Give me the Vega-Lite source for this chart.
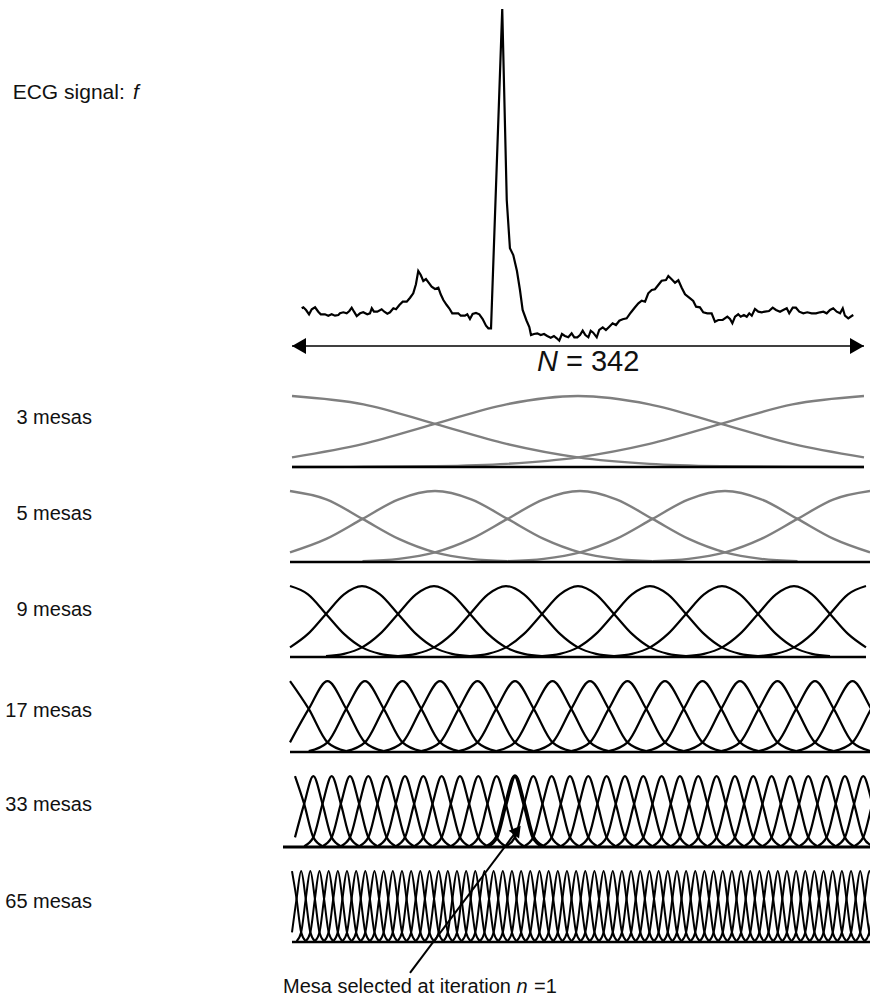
{
"$schema": "https://vega.github.io/schema/vega-lite/v6.json",
"padding": 0,
"spacing": 0,
"bounds": "flush",
"background": "white",
"config": {"view": {"stroke": null}, "font": "Liberation Sans", "text": {"font": "Liberation Sans", "color": "#111"}},
"datasets": {
"ecg": [
{"s":5.8,"v":0.267},{"s":6.8,"v":0.277},{"s":8.4,"v":0.25},{"s":10.2,"v":0.207},{"s":11.8,"v":0.257},{"s":13.8,"v":0.277},{"s":15.7,"v":0.233},{"s":17.2,"v":0.207},{"s":19.7,"v":0.207},{"s":21.7,"v":0.193},{"s":23.7,"v":0.207},{"s":25.7,"v":0.193},{"s":27.7,"v":0.2},{"s":28.7,"v":0.217},{"s":30.7,"v":0.227},{"s":32.7,"v":0.217},{"s":34.3,"v":0.24},{"s":35.7,"v":0.273},{"s":37.1,"v":0.233},{"s":38.7,"v":0.19},{"s":40.7,"v":0.217},{"s":42.6,"v":0.227},{"s":45.0,"v":0.207},{"s":46.6,"v":0.217},{"s":47.7,"v":0.267},{"s":49.0,"v":0.233},{"s":51.0,"v":0.233},{"s":53.6,"v":0.257},{"s":55.2,"v":0.233},{"s":57.0,"v":0.213},{"s":58.6,"v":0.227},{"s":60.6,"v":0.267},{"s":62.2,"v":0.257},{"s":64.2,"v":0.3},{"s":66.2,"v":0.333},{"s":68.6,"v":0.333},{"s":70.6,"v":0.373},{"s":72.5,"v":0.417},{"s":74.1,"v":0.507},{"s":75.5,"v":0.64},{"s":77.0,"v":0.6},{"s":78.5,"v":0.54},{"s":80.1,"v":0.56},{"s":81.7,"v":0.523},{"s":83.5,"v":0.483},{"s":85.5,"v":0.46},{"s":87.5,"v":0.473},{"s":88.9,"v":0.407},{"s":90.5,"v":0.35},{"s":92.5,"v":0.3},{"s":94.0,"v":0.267},{"s":95.8,"v":0.217},{"s":97.5,"v":0.217},{"s":99.4,"v":0.217},{"s":100.9,"v":0.193},{"s":103.4,"v":0.193},{"s":104.8,"v":0.207},{"s":106.4,"v":0.16},{"s":108.0,"v":0.21},{"s":110.0,"v":0.22},{"s":112.0,"v":0.207},{"s":114.0,"v":0.16},{"s":116.0,"v":0.093},{"s":117.4,"v":0.067},{"s":119.0,"v":0.067},{"s":125.7,"v":3.26},{"s":128.4,"v":1.35},{"s":130.3,"v":0.867},{"s":132.3,"v":0.8},{"s":134.5,"v":0.64},{"s":136.3,"v":0.45},{"s":137.9,"v":0.25},{"s":140.2,"v":0.145},{"s":141.9,"v":0.08},{"s":142.9,"v":0.0},{"s":144.7,"v":0.01},{"s":146.7,"v":0.017},{"s":148.7,"v":0.0},{"s":150.7,"v":0.01},{"s":152.6,"v":-0.01},{"s":154.7,"v":-0.027},{"s":156.6,"v":-0.01},{"s":158.3,"v":-0.033},{"s":159.8,"v":-0.057},{"s":161.4,"v":0.01},{"s":163.2,"v":-0.01},{"s":165.2,"v":-0.023},{"s":167.2,"v":0.017},{"s":168.8,"v":-0.023},{"s":170.6,"v":-0.023},{"s":172.2,"v":0.0},{"s":173.8,"v":0.043},{"s":175.4,"v":0.0},{"s":177.2,"v":-0.023},{"s":178.6,"v":0.043},{"s":180.1,"v":0.023},{"s":182.2,"v":-0.023},{"s":183.7,"v":0.05},{"s":185.8,"v":0.077},{"s":187.7,"v":0.05},{"s":189.7,"v":0.083},{"s":191.7,"v":0.117},{"s":193.7,"v":0.1},{"s":195.7,"v":0.143},{"s":197.7,"v":0.157},{"s":200.1,"v":0.167},{"s":202.5,"v":0.223},{"s":205.1,"v":0.277},{"s":207.1,"v":0.317},{"s":209.1,"v":0.343},{"s":211.1,"v":0.333},{"s":213.0,"v":0.417},{"s":215.1,"v":0.45},{"s":217.0,"v":0.457},{"s":219.0,"v":0.5},{"s":221.0,"v":0.543},{"s":223.6,"v":0.55},{"s":225.0,"v":0.59},{"s":227.0,"v":0.557},{"s":229.0,"v":0.523},{"s":231.0,"v":0.547},{"s":233.0,"v":0.473},{"s":235.0,"v":0.407},{"s":237.5,"v":0.373},{"s":239.9,"v":0.34},{"s":241.6,"v":0.283},{"s":243.9,"v":0.277},{"s":245.9,"v":0.227},{"s":248.3,"v":0.217},{"s":250.9,"v":0.217},{"s":252.9,"v":0.133},{"s":254.9,"v":0.15},{"s":257.5,"v":0.15},{"s":260.3,"v":0.183},{"s":261.9,"v":0.16},{"s":263.3,"v":0.117},{"s":264.9,"v":0.183},{"s":266.8,"v":0.207},{"s":268.3,"v":0.183},{"s":270.2,"v":0.2},{"s":271.9,"v":0.183},{"s":273.4,"v":0.217},{"s":274.9,"v":0.193},{"s":276.8,"v":0.26},{"s":278.8,"v":0.233},{"s":280.8,"v":0.227},{"s":282.8,"v":0.233},{"s":285.2,"v":0.24},{"s":287.4,"v":0.273},{"s":289.4,"v":0.25},{"s":291.8,"v":0.233},{"s":293.7,"v":0.25},{"s":295.8,"v":0.267},{"s":297.3,"v":0.217},{"s":299.4,"v":0.273},{"s":301.3,"v":0.273},{"s":303.3,"v":0.233},{"s":305.7,"v":0.217},{"s":308.1,"v":0.227},{"s":310.7,"v":0.217},{"s":313.3,"v":0.217},{"s":315.7,"v":0.227},{"s":317.7,"v":0.233},{"s":319.7,"v":0.217},{"s":321.7,"v":0.25},{"s":323.6,"v":0.267},{"s":325.7,"v":0.233},{"s":327.7,"v":0.217},{"s":329.3,"v":0.267},{"s":330.6,"v":0.193},{"s":332.6,"v":0.167},{"s":334.6,"v":0.19},{"s":335.6,"v":0.2}
],
"m3": [
{"k":0,"x":0,"y":1},{"k":0,"x":42.75,"y":0.883},{"k":0,"x":85.5,"y":0.607},{"k":0,"x":128.25,"y":0.325},{"k":0,"x":171,"y":0.135},{"k":0,"x":213.75,"y":0.044},{"k":0,"x":256.5,"y":0.011},{"k":0,"x":299.25,"y":0.002},{"k":0,"x":342,"y":0},
{"k":1,"x":0,"y":0.135},{"k":1,"x":42.75,"y":0.325},{"k":1,"x":85.5,"y":0.607},{"k":1,"x":128.25,"y":0.883},{"k":1,"x":171,"y":1},{"k":1,"x":213.75,"y":0.883},{"k":1,"x":256.5,"y":0.607},{"k":1,"x":299.25,"y":0.325},{"k":1,"x":342,"y":0.135},
{"k":2,"x":0,"y":0},{"k":2,"x":42.75,"y":0.002},{"k":2,"x":85.5,"y":0.011},{"k":2,"x":128.25,"y":0.044},{"k":2,"x":171,"y":0.135},{"k":2,"x":213.75,"y":0.325},{"k":2,"x":256.5,"y":0.607},{"k":2,"x":299.25,"y":0.883},{"k":2,"x":342,"y":1}
],
"m5": [
{"k":0,"x":0,"y":1},{"k":0,"x":21.38,"y":0.883},{"k":0,"x":42.75,"y":0.607},{"k":0,"x":64.13,"y":0.325},{"k":0,"x":85.5,"y":0.135},{"k":0,"x":106.88,"y":0.044},{"k":0,"x":128.25,"y":0.011},
{"k":1,"x":0,"y":0.135},{"k":1,"x":21.38,"y":0.325},{"k":1,"x":42.75,"y":0.607},{"k":1,"x":64.13,"y":0.883},{"k":1,"x":85.5,"y":1},{"k":1,"x":106.88,"y":0.883},{"k":1,"x":128.25,"y":0.607},{"k":1,"x":149.63,"y":0.325},{"k":1,"x":171,"y":0.135},{"k":1,"x":192.38,"y":0.044},{"k":1,"x":213.75,"y":0.011},
{"k":2,"x":42.75,"y":0.011},{"k":2,"x":64.13,"y":0.044},{"k":2,"x":85.5,"y":0.135},{"k":2,"x":106.88,"y":0.325},{"k":2,"x":128.25,"y":0.607},{"k":2,"x":149.63,"y":0.883},{"k":2,"x":171,"y":1},{"k":2,"x":192.38,"y":0.883},{"k":2,"x":213.75,"y":0.607},{"k":2,"x":235.13,"y":0.325},{"k":2,"x":256.5,"y":0.135},{"k":2,"x":277.88,"y":0.044},{"k":2,"x":299.25,"y":0.011},
{"k":3,"x":128.25,"y":0.011},{"k":3,"x":149.63,"y":0.044},{"k":3,"x":171,"y":0.135},{"k":3,"x":192.38,"y":0.325},{"k":3,"x":213.75,"y":0.607},{"k":3,"x":235.13,"y":0.883},{"k":3,"x":256.5,"y":1},{"k":3,"x":277.88,"y":0.883},{"k":3,"x":299.25,"y":0.607},{"k":3,"x":320.63,"y":0.325},{"k":3,"x":342,"y":0.135},
{"k":4,"x":213.75,"y":0.011},{"k":4,"x":235.13,"y":0.044},{"k":4,"x":256.5,"y":0.135},{"k":4,"x":277.88,"y":0.325},{"k":4,"x":299.25,"y":0.607},{"k":4,"x":320.63,"y":0.883},{"k":4,"x":342,"y":1}
],
"m9": [
{"k":0,"x":0,"y":1},{"k":0,"x":10.69,"y":0.883},{"k":0,"x":21.38,"y":0.607},{"k":0,"x":32.06,"y":0.325},{"k":0,"x":42.75,"y":0.135},{"k":0,"x":53.44,"y":0.044},{"k":0,"x":64.13,"y":0.011},
{"k":1,"x":0,"y":0.135},{"k":1,"x":10.69,"y":0.325},{"k":1,"x":21.38,"y":0.607},{"k":1,"x":32.06,"y":0.883},{"k":1,"x":42.75,"y":1},{"k":1,"x":53.44,"y":0.883},{"k":1,"x":64.13,"y":0.607},{"k":1,"x":74.81,"y":0.325},{"k":1,"x":85.5,"y":0.135},{"k":1,"x":96.19,"y":0.044},{"k":1,"x":106.88,"y":0.011},
{"k":2,"x":21.38,"y":0.011},{"k":2,"x":32.06,"y":0.044},{"k":2,"x":42.75,"y":0.135},{"k":2,"x":53.44,"y":0.325},{"k":2,"x":64.13,"y":0.607},{"k":2,"x":74.81,"y":0.883},{"k":2,"x":85.5,"y":1},{"k":2,"x":96.19,"y":0.883},{"k":2,"x":106.88,"y":0.607},{"k":2,"x":117.56,"y":0.325},{"k":2,"x":128.25,"y":0.135},{"k":2,"x":138.94,"y":0.044},{"k":2,"x":149.63,"y":0.011},
{"k":3,"x":64.13,"y":0.011},{"k":3,"x":74.81,"y":0.044},{"k":3,"x":85.5,"y":0.135},{"k":3,"x":96.19,"y":0.325},{"k":3,"x":106.88,"y":0.607},{"k":3,"x":117.56,"y":0.883},{"k":3,"x":128.25,"y":1},{"k":3,"x":138.94,"y":0.883},{"k":3,"x":149.63,"y":0.607},{"k":3,"x":160.31,"y":0.325},{"k":3,"x":171,"y":0.135},{"k":3,"x":181.69,"y":0.044},{"k":3,"x":192.38,"y":0.011},
{"k":4,"x":106.88,"y":0.011},{"k":4,"x":117.56,"y":0.044},{"k":4,"x":128.25,"y":0.135},{"k":4,"x":138.94,"y":0.325},{"k":4,"x":149.63,"y":0.607},{"k":4,"x":160.31,"y":0.883},{"k":4,"x":171,"y":1},{"k":4,"x":181.69,"y":0.883},{"k":4,"x":192.38,"y":0.607},{"k":4,"x":203.06,"y":0.325},{"k":4,"x":213.75,"y":0.135},{"k":4,"x":224.44,"y":0.044},{"k":4,"x":235.13,"y":0.011},
{"k":5,"x":149.63,"y":0.011},{"k":5,"x":160.31,"y":0.044},{"k":5,"x":171,"y":0.135},{"k":5,"x":181.69,"y":0.325},{"k":5,"x":192.38,"y":0.607},{"k":5,"x":203.06,"y":0.883},{"k":5,"x":213.75,"y":1},{"k":5,"x":224.44,"y":0.883},{"k":5,"x":235.13,"y":0.607},{"k":5,"x":245.81,"y":0.325},{"k":5,"x":256.5,"y":0.135},{"k":5,"x":267.19,"y":0.044},{"k":5,"x":277.88,"y":0.011},
{"k":6,"x":192.38,"y":0.011},{"k":6,"x":203.06,"y":0.044},{"k":6,"x":213.75,"y":0.135},{"k":6,"x":224.44,"y":0.325},{"k":6,"x":235.13,"y":0.607},{"k":6,"x":245.81,"y":0.883},{"k":6,"x":256.5,"y":1},{"k":6,"x":267.19,"y":0.883},{"k":6,"x":277.88,"y":0.607},{"k":6,"x":288.56,"y":0.325},{"k":6,"x":299.25,"y":0.135},{"k":6,"x":309.94,"y":0.044},{"k":6,"x":320.63,"y":0.011},
{"k":7,"x":235.13,"y":0.011},{"k":7,"x":245.81,"y":0.044},{"k":7,"x":256.5,"y":0.135},{"k":7,"x":267.19,"y":0.325},{"k":7,"x":277.88,"y":0.607},{"k":7,"x":288.56,"y":0.883},{"k":7,"x":299.25,"y":1},{"k":7,"x":309.94,"y":0.883},{"k":7,"x":320.63,"y":0.607},{"k":7,"x":331.31,"y":0.325},{"k":7,"x":342,"y":0.135},
{"k":8,"x":277.88,"y":0.011},{"k":8,"x":288.56,"y":0.044},{"k":8,"x":299.25,"y":0.135},{"k":8,"x":309.94,"y":0.325},{"k":8,"x":320.63,"y":0.607},{"k":8,"x":331.31,"y":0.883},{"k":8,"x":342,"y":1}
],
"m17": [
{"k":0,"x":0,"y":1},{"k":0,"x":10.69,"y":0.607},{"k":0,"x":21.38,"y":0.135},{"k":0,"x":32.06,"y":0.011},
{"k":1,"x":0,"y":0.135},{"k":1,"x":10.69,"y":0.607},{"k":1,"x":21.38,"y":1},{"k":1,"x":32.06,"y":0.607},{"k":1,"x":42.75,"y":0.135},{"k":1,"x":53.44,"y":0.011},
{"k":2,"x":10.69,"y":0.011},{"k":2,"x":21.38,"y":0.135},{"k":2,"x":32.06,"y":0.607},{"k":2,"x":42.75,"y":1},{"k":2,"x":53.44,"y":0.607},{"k":2,"x":64.13,"y":0.135},{"k":2,"x":74.81,"y":0.011},
{"k":3,"x":32.06,"y":0.011},{"k":3,"x":42.75,"y":0.135},{"k":3,"x":53.44,"y":0.607},{"k":3,"x":64.13,"y":1},{"k":3,"x":74.81,"y":0.607},{"k":3,"x":85.5,"y":0.135},{"k":3,"x":96.19,"y":0.011},
{"k":4,"x":53.44,"y":0.011},{"k":4,"x":64.13,"y":0.135},{"k":4,"x":74.81,"y":0.607},{"k":4,"x":85.5,"y":1},{"k":4,"x":96.19,"y":0.607},{"k":4,"x":106.88,"y":0.135},{"k":4,"x":117.56,"y":0.011},
{"k":5,"x":74.81,"y":0.011},{"k":5,"x":85.5,"y":0.135},{"k":5,"x":96.19,"y":0.607},{"k":5,"x":106.88,"y":1},{"k":5,"x":117.56,"y":0.607},{"k":5,"x":128.25,"y":0.135},{"k":5,"x":138.94,"y":0.011},
{"k":6,"x":96.19,"y":0.011},{"k":6,"x":106.88,"y":0.135},{"k":6,"x":117.56,"y":0.607},{"k":6,"x":128.25,"y":1},{"k":6,"x":138.94,"y":0.607},{"k":6,"x":149.63,"y":0.135},{"k":6,"x":160.31,"y":0.011},
{"k":7,"x":117.56,"y":0.011},{"k":7,"x":128.25,"y":0.135},{"k":7,"x":138.94,"y":0.607},{"k":7,"x":149.63,"y":1},{"k":7,"x":160.31,"y":0.607},{"k":7,"x":171,"y":0.135},{"k":7,"x":181.69,"y":0.011},
{"k":8,"x":138.94,"y":0.011},{"k":8,"x":149.63,"y":0.135},{"k":8,"x":160.31,"y":0.607},{"k":8,"x":171,"y":1},{"k":8,"x":181.69,"y":0.607},{"k":8,"x":192.38,"y":0.135},{"k":8,"x":203.06,"y":0.011},
{"k":9,"x":160.31,"y":0.011},{"k":9,"x":171,"y":0.135},{"k":9,"x":181.69,"y":0.607},{"k":9,"x":192.38,"y":1},{"k":9,"x":203.06,"y":0.607},{"k":9,"x":213.75,"y":0.135},{"k":9,"x":224.44,"y":0.011},
{"k":10,"x":181.69,"y":0.011},{"k":10,"x":192.38,"y":0.135},{"k":10,"x":203.06,"y":0.607},{"k":10,"x":213.75,"y":1},{"k":10,"x":224.44,"y":0.607},{"k":10,"x":235.13,"y":0.135},{"k":10,"x":245.81,"y":0.011},
{"k":11,"x":203.06,"y":0.011},{"k":11,"x":213.75,"y":0.135},{"k":11,"x":224.44,"y":0.607},{"k":11,"x":235.13,"y":1},{"k":11,"x":245.81,"y":0.607},{"k":11,"x":256.5,"y":0.135},{"k":11,"x":267.19,"y":0.011},
{"k":12,"x":224.44,"y":0.011},{"k":12,"x":235.13,"y":0.135},{"k":12,"x":245.81,"y":0.607},{"k":12,"x":256.5,"y":1},{"k":12,"x":267.19,"y":0.607},{"k":12,"x":277.88,"y":0.135},{"k":12,"x":288.56,"y":0.011},
{"k":13,"x":245.81,"y":0.011},{"k":13,"x":256.5,"y":0.135},{"k":13,"x":267.19,"y":0.607},{"k":13,"x":277.88,"y":1},{"k":13,"x":288.56,"y":0.607},{"k":13,"x":299.25,"y":0.135},{"k":13,"x":309.94,"y":0.011},
{"k":14,"x":267.19,"y":0.011},{"k":14,"x":277.88,"y":0.135},{"k":14,"x":288.56,"y":0.607},{"k":14,"x":299.25,"y":1},{"k":14,"x":309.94,"y":0.607},{"k":14,"x":320.63,"y":0.135},{"k":14,"x":331.31,"y":0.011},
{"k":15,"x":288.56,"y":0.011},{"k":15,"x":299.25,"y":0.135},{"k":15,"x":309.94,"y":0.607},{"k":15,"x":320.63,"y":1},{"k":15,"x":331.31,"y":0.607},{"k":15,"x":342,"y":0.135},
{"k":16,"x":309.94,"y":0.011},{"k":16,"x":320.63,"y":0.135},{"k":16,"x":331.31,"y":0.607},{"k":16,"x":342,"y":1}
],
"m33": [
{"k":0,"x":0,"y":1},{"k":0,"x":5.34,"y":0.607},{"k":0,"x":10.69,"y":0.135},{"k":0,"x":16.03,"y":0.011},
{"k":1,"x":0,"y":0.135},{"k":1,"x":5.34,"y":0.607},{"k":1,"x":10.69,"y":1},{"k":1,"x":16.03,"y":0.607},{"k":1,"x":21.38,"y":0.135},{"k":1,"x":26.72,"y":0.011},
{"k":2,"x":5.34,"y":0.011},{"k":2,"x":10.69,"y":0.135},{"k":2,"x":16.03,"y":0.607},{"k":2,"x":21.38,"y":1},{"k":2,"x":26.72,"y":0.607},{"k":2,"x":32.06,"y":0.135},{"k":2,"x":37.41,"y":0.011},
{"k":3,"x":16.03,"y":0.011},{"k":3,"x":21.38,"y":0.135},{"k":3,"x":26.72,"y":0.607},{"k":3,"x":32.06,"y":1},{"k":3,"x":37.41,"y":0.607},{"k":3,"x":42.75,"y":0.135},{"k":3,"x":48.09,"y":0.011},
{"k":4,"x":26.72,"y":0.011},{"k":4,"x":32.06,"y":0.135},{"k":4,"x":37.41,"y":0.607},{"k":4,"x":42.75,"y":1},{"k":4,"x":48.09,"y":0.607},{"k":4,"x":53.44,"y":0.135},{"k":4,"x":58.78,"y":0.011},
{"k":5,"x":37.41,"y":0.011},{"k":5,"x":42.75,"y":0.135},{"k":5,"x":48.09,"y":0.607},{"k":5,"x":53.44,"y":1},{"k":5,"x":58.78,"y":0.607},{"k":5,"x":64.13,"y":0.135},{"k":5,"x":69.47,"y":0.011},
{"k":6,"x":48.09,"y":0.011},{"k":6,"x":53.44,"y":0.135},{"k":6,"x":58.78,"y":0.607},{"k":6,"x":64.13,"y":1},{"k":6,"x":69.47,"y":0.607},{"k":6,"x":74.81,"y":0.135},{"k":6,"x":80.16,"y":0.011},
{"k":7,"x":58.78,"y":0.011},{"k":7,"x":64.13,"y":0.135},{"k":7,"x":69.47,"y":0.607},{"k":7,"x":74.81,"y":1},{"k":7,"x":80.16,"y":0.607},{"k":7,"x":85.5,"y":0.135},{"k":7,"x":90.84,"y":0.011},
{"k":8,"x":69.47,"y":0.011},{"k":8,"x":74.81,"y":0.135},{"k":8,"x":80.16,"y":0.607},{"k":8,"x":85.5,"y":1},{"k":8,"x":90.84,"y":0.607},{"k":8,"x":96.19,"y":0.135},{"k":8,"x":101.53,"y":0.011},
{"k":9,"x":80.16,"y":0.011},{"k":9,"x":85.5,"y":0.135},{"k":9,"x":90.84,"y":0.607},{"k":9,"x":96.19,"y":1},{"k":9,"x":101.53,"y":0.607},{"k":9,"x":106.88,"y":0.135},{"k":9,"x":112.22,"y":0.011},
{"k":10,"x":90.84,"y":0.011},{"k":10,"x":96.19,"y":0.135},{"k":10,"x":101.53,"y":0.607},{"k":10,"x":106.88,"y":1},{"k":10,"x":112.22,"y":0.607},{"k":10,"x":117.56,"y":0.135},{"k":10,"x":122.91,"y":0.011},
{"k":11,"x":101.53,"y":0.011},{"k":11,"x":106.88,"y":0.135},{"k":11,"x":112.22,"y":0.607},{"k":11,"x":117.56,"y":1},{"k":11,"x":122.91,"y":0.607},{"k":11,"x":128.25,"y":0.135},{"k":11,"x":133.59,"y":0.011},
{"k":12,"x":112.22,"y":0.011},{"k":12,"x":117.56,"y":0.135},{"k":12,"x":122.91,"y":0.607},{"k":12,"x":128.25,"y":1},{"k":12,"x":133.59,"y":0.607},{"k":12,"x":138.94,"y":0.135},{"k":12,"x":144.28,"y":0.011},
{"k":13,"x":122.91,"y":0.011},{"k":13,"x":128.25,"y":0.135},{"k":13,"x":133.59,"y":0.607},{"k":13,"x":138.94,"y":1},{"k":13,"x":144.28,"y":0.607},{"k":13,"x":149.63,"y":0.135},{"k":13,"x":154.97,"y":0.011},
{"k":14,"x":133.59,"y":0.011},{"k":14,"x":138.94,"y":0.135},{"k":14,"x":144.28,"y":0.607},{"k":14,"x":149.63,"y":1},{"k":14,"x":154.97,"y":0.607},{"k":14,"x":160.31,"y":0.135},{"k":14,"x":165.66,"y":0.011},
{"k":15,"x":144.28,"y":0.011},{"k":15,"x":149.63,"y":0.135},{"k":15,"x":154.97,"y":0.607},{"k":15,"x":160.31,"y":1},{"k":15,"x":165.66,"y":0.607},{"k":15,"x":171,"y":0.135},{"k":15,"x":176.34,"y":0.011},
{"k":16,"x":154.97,"y":0.011},{"k":16,"x":160.31,"y":0.135},{"k":16,"x":165.66,"y":0.607},{"k":16,"x":171,"y":1},{"k":16,"x":176.34,"y":0.607},{"k":16,"x":181.69,"y":0.135},{"k":16,"x":187.03,"y":0.011},
{"k":17,"x":165.66,"y":0.011},{"k":17,"x":171,"y":0.135},{"k":17,"x":176.34,"y":0.607},{"k":17,"x":181.69,"y":1},{"k":17,"x":187.03,"y":0.607},{"k":17,"x":192.38,"y":0.135},{"k":17,"x":197.72,"y":0.011},
{"k":18,"x":176.34,"y":0.011},{"k":18,"x":181.69,"y":0.135},{"k":18,"x":187.03,"y":0.607},{"k":18,"x":192.38,"y":1},{"k":18,"x":197.72,"y":0.607},{"k":18,"x":203.06,"y":0.135},{"k":18,"x":208.41,"y":0.011},
{"k":19,"x":187.03,"y":0.011},{"k":19,"x":192.38,"y":0.135},{"k":19,"x":197.72,"y":0.607},{"k":19,"x":203.06,"y":1},{"k":19,"x":208.41,"y":0.607},{"k":19,"x":213.75,"y":0.135},{"k":19,"x":219.09,"y":0.011},
{"k":20,"x":197.72,"y":0.011},{"k":20,"x":203.06,"y":0.135},{"k":20,"x":208.41,"y":0.607},{"k":20,"x":213.75,"y":1},{"k":20,"x":219.09,"y":0.607},{"k":20,"x":224.44,"y":0.135},{"k":20,"x":229.78,"y":0.011},
{"k":21,"x":208.41,"y":0.011},{"k":21,"x":213.75,"y":0.135},{"k":21,"x":219.09,"y":0.607},{"k":21,"x":224.44,"y":1},{"k":21,"x":229.78,"y":0.607},{"k":21,"x":235.13,"y":0.135},{"k":21,"x":240.47,"y":0.011},
{"k":22,"x":219.09,"y":0.011},{"k":22,"x":224.44,"y":0.135},{"k":22,"x":229.78,"y":0.607},{"k":22,"x":235.13,"y":1},{"k":22,"x":240.47,"y":0.607},{"k":22,"x":245.81,"y":0.135},{"k":22,"x":251.16,"y":0.011},
{"k":23,"x":229.78,"y":0.011},{"k":23,"x":235.13,"y":0.135},{"k":23,"x":240.47,"y":0.607},{"k":23,"x":245.81,"y":1},{"k":23,"x":251.16,"y":0.607},{"k":23,"x":256.5,"y":0.135},{"k":23,"x":261.84,"y":0.011},
{"k":24,"x":240.47,"y":0.011},{"k":24,"x":245.81,"y":0.135},{"k":24,"x":251.16,"y":0.607},{"k":24,"x":256.5,"y":1},{"k":24,"x":261.84,"y":0.607},{"k":24,"x":267.19,"y":0.135},{"k":24,"x":272.53,"y":0.011},
{"k":25,"x":251.16,"y":0.011},{"k":25,"x":256.5,"y":0.135},{"k":25,"x":261.84,"y":0.607},{"k":25,"x":267.19,"y":1},{"k":25,"x":272.53,"y":0.607},{"k":25,"x":277.88,"y":0.135},{"k":25,"x":283.22,"y":0.011},
{"k":26,"x":261.84,"y":0.011},{"k":26,"x":267.19,"y":0.135},{"k":26,"x":272.53,"y":0.607},{"k":26,"x":277.88,"y":1},{"k":26,"x":283.22,"y":0.607},{"k":26,"x":288.56,"y":0.135},{"k":26,"x":293.91,"y":0.011},
{"k":27,"x":272.53,"y":0.011},{"k":27,"x":277.88,"y":0.135},{"k":27,"x":283.22,"y":0.607},{"k":27,"x":288.56,"y":1},{"k":27,"x":293.91,"y":0.607},{"k":27,"x":299.25,"y":0.135},{"k":27,"x":304.59,"y":0.011},
{"k":28,"x":283.22,"y":0.011},{"k":28,"x":288.56,"y":0.135},{"k":28,"x":293.91,"y":0.607},{"k":28,"x":299.25,"y":1},{"k":28,"x":304.59,"y":0.607},{"k":28,"x":309.94,"y":0.135},{"k":28,"x":315.28,"y":0.011},
{"k":29,"x":293.91,"y":0.011},{"k":29,"x":299.25,"y":0.135},{"k":29,"x":304.59,"y":0.607},{"k":29,"x":309.94,"y":1},{"k":29,"x":315.28,"y":0.607},{"k":29,"x":320.63,"y":0.135},{"k":29,"x":325.97,"y":0.011},
{"k":30,"x":304.59,"y":0.011},{"k":30,"x":309.94,"y":0.135},{"k":30,"x":315.28,"y":0.607},{"k":30,"x":320.63,"y":1},{"k":30,"x":325.97,"y":0.607},{"k":30,"x":331.31,"y":0.135},{"k":30,"x":336.66,"y":0.011},
{"k":31,"x":315.28,"y":0.011},{"k":31,"x":320.63,"y":0.135},{"k":31,"x":325.97,"y":0.607},{"k":31,"x":331.31,"y":1},{"k":31,"x":336.66,"y":0.607},{"k":31,"x":342,"y":0.135},
{"k":32,"x":325.97,"y":0.011},{"k":32,"x":331.31,"y":0.135},{"k":32,"x":336.66,"y":0.607},{"k":32,"x":342,"y":1}
],
"m65": [
{"k":0,"x":0,"y":1},{"k":0,"x":2.67,"y":0.607},{"k":0,"x":5.34,"y":0.135},{"k":0,"x":8.02,"y":0.011},
{"k":1,"x":0,"y":0.135},{"k":1,"x":2.67,"y":0.607},{"k":1,"x":5.34,"y":1},{"k":1,"x":8.02,"y":0.607},{"k":1,"x":10.69,"y":0.135},{"k":1,"x":13.36,"y":0.011},
{"k":2,"x":2.67,"y":0.011},{"k":2,"x":5.34,"y":0.135},{"k":2,"x":8.02,"y":0.607},{"k":2,"x":10.69,"y":1},{"k":2,"x":13.36,"y":0.607},{"k":2,"x":16.03,"y":0.135},{"k":2,"x":18.7,"y":0.011},
{"k":3,"x":8.02,"y":0.011},{"k":3,"x":10.69,"y":0.135},{"k":3,"x":13.36,"y":0.607},{"k":3,"x":16.03,"y":1},{"k":3,"x":18.7,"y":0.607},{"k":3,"x":21.38,"y":0.135},{"k":3,"x":24.05,"y":0.011},
{"k":4,"x":13.36,"y":0.011},{"k":4,"x":16.03,"y":0.135},{"k":4,"x":18.7,"y":0.607},{"k":4,"x":21.38,"y":1},{"k":4,"x":24.05,"y":0.607},{"k":4,"x":26.72,"y":0.135},{"k":4,"x":29.39,"y":0.011},
{"k":5,"x":18.7,"y":0.011},{"k":5,"x":21.38,"y":0.135},{"k":5,"x":24.05,"y":0.607},{"k":5,"x":26.72,"y":1},{"k":5,"x":29.39,"y":0.607},{"k":5,"x":32.06,"y":0.135},{"k":5,"x":34.73,"y":0.011},
{"k":6,"x":24.05,"y":0.011},{"k":6,"x":26.72,"y":0.135},{"k":6,"x":29.39,"y":0.607},{"k":6,"x":32.06,"y":1},{"k":6,"x":34.73,"y":0.607},{"k":6,"x":37.41,"y":0.135},{"k":6,"x":40.08,"y":0.011},
{"k":7,"x":29.39,"y":0.011},{"k":7,"x":32.06,"y":0.135},{"k":7,"x":34.73,"y":0.607},{"k":7,"x":37.41,"y":1},{"k":7,"x":40.08,"y":0.607},{"k":7,"x":42.75,"y":0.135},{"k":7,"x":45.42,"y":0.011},
{"k":8,"x":34.73,"y":0.011},{"k":8,"x":37.41,"y":0.135},{"k":8,"x":40.08,"y":0.607},{"k":8,"x":42.75,"y":1},{"k":8,"x":45.42,"y":0.607},{"k":8,"x":48.09,"y":0.135},{"k":8,"x":50.77,"y":0.011},
{"k":9,"x":40.08,"y":0.011},{"k":9,"x":42.75,"y":0.135},{"k":9,"x":45.42,"y":0.607},{"k":9,"x":48.09,"y":1},{"k":9,"x":50.77,"y":0.607},{"k":9,"x":53.44,"y":0.135},{"k":9,"x":56.11,"y":0.011},
{"k":10,"x":45.42,"y":0.011},{"k":10,"x":48.09,"y":0.135},{"k":10,"x":50.77,"y":0.607},{"k":10,"x":53.44,"y":1},{"k":10,"x":56.11,"y":0.607},{"k":10,"x":58.78,"y":0.135},{"k":10,"x":61.45,"y":0.011},
{"k":11,"x":50.77,"y":0.011},{"k":11,"x":53.44,"y":0.135},{"k":11,"x":56.11,"y":0.607},{"k":11,"x":58.78,"y":1},{"k":11,"x":61.45,"y":0.607},{"k":11,"x":64.13,"y":0.135},{"k":11,"x":66.8,"y":0.011},
{"k":12,"x":56.11,"y":0.011},{"k":12,"x":58.78,"y":0.135},{"k":12,"x":61.45,"y":0.607},{"k":12,"x":64.13,"y":1},{"k":12,"x":66.8,"y":0.607},{"k":12,"x":69.47,"y":0.135},{"k":12,"x":72.14,"y":0.011},
{"k":13,"x":61.45,"y":0.011},{"k":13,"x":64.13,"y":0.135},{"k":13,"x":66.8,"y":0.607},{"k":13,"x":69.47,"y":1},{"k":13,"x":72.14,"y":0.607},{"k":13,"x":74.81,"y":0.135},{"k":13,"x":77.48,"y":0.011},
{"k":14,"x":66.8,"y":0.011},{"k":14,"x":69.47,"y":0.135},{"k":14,"x":72.14,"y":0.607},{"k":14,"x":74.81,"y":1},{"k":14,"x":77.48,"y":0.607},{"k":14,"x":80.16,"y":0.135},{"k":14,"x":82.83,"y":0.011},
{"k":15,"x":72.14,"y":0.011},{"k":15,"x":74.81,"y":0.135},{"k":15,"x":77.48,"y":0.607},{"k":15,"x":80.16,"y":1},{"k":15,"x":82.83,"y":0.607},{"k":15,"x":85.5,"y":0.135},{"k":15,"x":88.17,"y":0.011},
{"k":16,"x":77.48,"y":0.011},{"k":16,"x":80.16,"y":0.135},{"k":16,"x":82.83,"y":0.607},{"k":16,"x":85.5,"y":1},{"k":16,"x":88.17,"y":0.607},{"k":16,"x":90.84,"y":0.135},{"k":16,"x":93.52,"y":0.011},
{"k":17,"x":82.83,"y":0.011},{"k":17,"x":85.5,"y":0.135},{"k":17,"x":88.17,"y":0.607},{"k":17,"x":90.84,"y":1},{"k":17,"x":93.52,"y":0.607},{"k":17,"x":96.19,"y":0.135},{"k":17,"x":98.86,"y":0.011},
{"k":18,"x":88.17,"y":0.011},{"k":18,"x":90.84,"y":0.135},{"k":18,"x":93.52,"y":0.607},{"k":18,"x":96.19,"y":1},{"k":18,"x":98.86,"y":0.607},{"k":18,"x":101.53,"y":0.135},{"k":18,"x":104.2,"y":0.011},
{"k":19,"x":93.52,"y":0.011},{"k":19,"x":96.19,"y":0.135},{"k":19,"x":98.86,"y":0.607},{"k":19,"x":101.53,"y":1},{"k":19,"x":104.2,"y":0.607},{"k":19,"x":106.88,"y":0.135},{"k":19,"x":109.55,"y":0.011},
{"k":20,"x":98.86,"y":0.011},{"k":20,"x":101.53,"y":0.135},{"k":20,"x":104.2,"y":0.607},{"k":20,"x":106.88,"y":1},{"k":20,"x":109.55,"y":0.607},{"k":20,"x":112.22,"y":0.135},{"k":20,"x":114.89,"y":0.011},
{"k":21,"x":104.2,"y":0.011},{"k":21,"x":106.88,"y":0.135},{"k":21,"x":109.55,"y":0.607},{"k":21,"x":112.22,"y":1},{"k":21,"x":114.89,"y":0.607},{"k":21,"x":117.56,"y":0.135},{"k":21,"x":120.23,"y":0.011},
{"k":22,"x":109.55,"y":0.011},{"k":22,"x":112.22,"y":0.135},{"k":22,"x":114.89,"y":0.607},{"k":22,"x":117.56,"y":1},{"k":22,"x":120.23,"y":0.607},{"k":22,"x":122.91,"y":0.135},{"k":22,"x":125.58,"y":0.011},
{"k":23,"x":114.89,"y":0.011},{"k":23,"x":117.56,"y":0.135},{"k":23,"x":120.23,"y":0.607},{"k":23,"x":122.91,"y":1},{"k":23,"x":125.58,"y":0.607},{"k":23,"x":128.25,"y":0.135},{"k":23,"x":130.92,"y":0.011},
{"k":24,"x":120.23,"y":0.011},{"k":24,"x":122.91,"y":0.135},{"k":24,"x":125.58,"y":0.607},{"k":24,"x":128.25,"y":1},{"k":24,"x":130.92,"y":0.607},{"k":24,"x":133.59,"y":0.135},{"k":24,"x":136.27,"y":0.011},
{"k":25,"x":125.58,"y":0.011},{"k":25,"x":128.25,"y":0.135},{"k":25,"x":130.92,"y":0.607},{"k":25,"x":133.59,"y":1},{"k":25,"x":136.27,"y":0.607},{"k":25,"x":138.94,"y":0.135},{"k":25,"x":141.61,"y":0.011},
{"k":26,"x":130.92,"y":0.011},{"k":26,"x":133.59,"y":0.135},{"k":26,"x":136.27,"y":0.607},{"k":26,"x":138.94,"y":1},{"k":26,"x":141.61,"y":0.607},{"k":26,"x":144.28,"y":0.135},{"k":26,"x":146.95,"y":0.011},
{"k":27,"x":136.27,"y":0.011},{"k":27,"x":138.94,"y":0.135},{"k":27,"x":141.61,"y":0.607},{"k":27,"x":144.28,"y":1},{"k":27,"x":146.95,"y":0.607},{"k":27,"x":149.63,"y":0.135},{"k":27,"x":152.3,"y":0.011},
{"k":28,"x":141.61,"y":0.011},{"k":28,"x":144.28,"y":0.135},{"k":28,"x":146.95,"y":0.607},{"k":28,"x":149.63,"y":1},{"k":28,"x":152.3,"y":0.607},{"k":28,"x":154.97,"y":0.135},{"k":28,"x":157.64,"y":0.011},
{"k":29,"x":146.95,"y":0.011},{"k":29,"x":149.63,"y":0.135},{"k":29,"x":152.3,"y":0.607},{"k":29,"x":154.97,"y":1},{"k":29,"x":157.64,"y":0.607},{"k":29,"x":160.31,"y":0.135},{"k":29,"x":162.98,"y":0.011},
{"k":30,"x":152.3,"y":0.011},{"k":30,"x":154.97,"y":0.135},{"k":30,"x":157.64,"y":0.607},{"k":30,"x":160.31,"y":1},{"k":30,"x":162.98,"y":0.607},{"k":30,"x":165.66,"y":0.135},{"k":30,"x":168.33,"y":0.011},
{"k":31,"x":157.64,"y":0.011},{"k":31,"x":160.31,"y":0.135},{"k":31,"x":162.98,"y":0.607},{"k":31,"x":165.66,"y":1},{"k":31,"x":168.33,"y":0.607},{"k":31,"x":171,"y":0.135},{"k":31,"x":173.67,"y":0.011},
{"k":32,"x":162.98,"y":0.011},{"k":32,"x":165.66,"y":0.135},{"k":32,"x":168.33,"y":0.607},{"k":32,"x":171,"y":1},{"k":32,"x":173.67,"y":0.607},{"k":32,"x":176.34,"y":0.135},{"k":32,"x":179.02,"y":0.011},
{"k":33,"x":168.33,"y":0.011},{"k":33,"x":171,"y":0.135},{"k":33,"x":173.67,"y":0.607},{"k":33,"x":176.34,"y":1},{"k":33,"x":179.02,"y":0.607},{"k":33,"x":181.69,"y":0.135},{"k":33,"x":184.36,"y":0.011},
{"k":34,"x":173.67,"y":0.011},{"k":34,"x":176.34,"y":0.135},{"k":34,"x":179.02,"y":0.607},{"k":34,"x":181.69,"y":1},{"k":34,"x":184.36,"y":0.607},{"k":34,"x":187.03,"y":0.135},{"k":34,"x":189.7,"y":0.011},
{"k":35,"x":179.02,"y":0.011},{"k":35,"x":181.69,"y":0.135},{"k":35,"x":184.36,"y":0.607},{"k":35,"x":187.03,"y":1},{"k":35,"x":189.7,"y":0.607},{"k":35,"x":192.38,"y":0.135},{"k":35,"x":195.05,"y":0.011},
{"k":36,"x":184.36,"y":0.011},{"k":36,"x":187.03,"y":0.135},{"k":36,"x":189.7,"y":0.607},{"k":36,"x":192.38,"y":1},{"k":36,"x":195.05,"y":0.607},{"k":36,"x":197.72,"y":0.135},{"k":36,"x":200.39,"y":0.011},
{"k":37,"x":189.7,"y":0.011},{"k":37,"x":192.38,"y":0.135},{"k":37,"x":195.05,"y":0.607},{"k":37,"x":197.72,"y":1},{"k":37,"x":200.39,"y":0.607},{"k":37,"x":203.06,"y":0.135},{"k":37,"x":205.73,"y":0.011},
{"k":38,"x":195.05,"y":0.011},{"k":38,"x":197.72,"y":0.135},{"k":38,"x":200.39,"y":0.607},{"k":38,"x":203.06,"y":1},{"k":38,"x":205.73,"y":0.607},{"k":38,"x":208.41,"y":0.135},{"k":38,"x":211.08,"y":0.011},
{"k":39,"x":200.39,"y":0.011},{"k":39,"x":203.06,"y":0.135},{"k":39,"x":205.73,"y":0.607},{"k":39,"x":208.41,"y":1},{"k":39,"x":211.08,"y":0.607},{"k":39,"x":213.75,"y":0.135},{"k":39,"x":216.42,"y":0.011},
{"k":40,"x":205.73,"y":0.011},{"k":40,"x":208.41,"y":0.135},{"k":40,"x":211.08,"y":0.607},{"k":40,"x":213.75,"y":1},{"k":40,"x":216.42,"y":0.607},{"k":40,"x":219.09,"y":0.135},{"k":40,"x":221.77,"y":0.011},
{"k":41,"x":211.08,"y":0.011},{"k":41,"x":213.75,"y":0.135},{"k":41,"x":216.42,"y":0.607},{"k":41,"x":219.09,"y":1},{"k":41,"x":221.77,"y":0.607},{"k":41,"x":224.44,"y":0.135},{"k":41,"x":227.11,"y":0.011},
{"k":42,"x":216.42,"y":0.011},{"k":42,"x":219.09,"y":0.135},{"k":42,"x":221.77,"y":0.607},{"k":42,"x":224.44,"y":1},{"k":42,"x":227.11,"y":0.607},{"k":42,"x":229.78,"y":0.135},{"k":42,"x":232.45,"y":0.011},
{"k":43,"x":221.77,"y":0.011},{"k":43,"x":224.44,"y":0.135},{"k":43,"x":227.11,"y":0.607},{"k":43,"x":229.78,"y":1},{"k":43,"x":232.45,"y":0.607},{"k":43,"x":235.13,"y":0.135},{"k":43,"x":237.8,"y":0.011},
{"k":44,"x":227.11,"y":0.011},{"k":44,"x":229.78,"y":0.135},{"k":44,"x":232.45,"y":0.607},{"k":44,"x":235.13,"y":1},{"k":44,"x":237.8,"y":0.607},{"k":44,"x":240.47,"y":0.135},{"k":44,"x":243.14,"y":0.011},
{"k":45,"x":232.45,"y":0.011},{"k":45,"x":235.13,"y":0.135},{"k":45,"x":237.8,"y":0.607},{"k":45,"x":240.47,"y":1},{"k":45,"x":243.14,"y":0.607},{"k":45,"x":245.81,"y":0.135},{"k":45,"x":248.48,"y":0.011},
{"k":46,"x":237.8,"y":0.011},{"k":46,"x":240.47,"y":0.135},{"k":46,"x":243.14,"y":0.607},{"k":46,"x":245.81,"y":1},{"k":46,"x":248.48,"y":0.607},{"k":46,"x":251.16,"y":0.135},{"k":46,"x":253.83,"y":0.011},
{"k":47,"x":243.14,"y":0.011},{"k":47,"x":245.81,"y":0.135},{"k":47,"x":248.48,"y":0.607},{"k":47,"x":251.16,"y":1},{"k":47,"x":253.83,"y":0.607},{"k":47,"x":256.5,"y":0.135},{"k":47,"x":259.17,"y":0.011},
{"k":48,"x":248.48,"y":0.011},{"k":48,"x":251.16,"y":0.135},{"k":48,"x":253.83,"y":0.607},{"k":48,"x":256.5,"y":1},{"k":48,"x":259.17,"y":0.607},{"k":48,"x":261.84,"y":0.135},{"k":48,"x":264.52,"y":0.011},
{"k":49,"x":253.83,"y":0.011},{"k":49,"x":256.5,"y":0.135},{"k":49,"x":259.17,"y":0.607},{"k":49,"x":261.84,"y":1},{"k":49,"x":264.52,"y":0.607},{"k":49,"x":267.19,"y":0.135},{"k":49,"x":269.86,"y":0.011},
{"k":50,"x":259.17,"y":0.011},{"k":50,"x":261.84,"y":0.135},{"k":50,"x":264.52,"y":0.607},{"k":50,"x":267.19,"y":1},{"k":50,"x":269.86,"y":0.607},{"k":50,"x":272.53,"y":0.135},{"k":50,"x":275.2,"y":0.011},
{"k":51,"x":264.52,"y":0.011},{"k":51,"x":267.19,"y":0.135},{"k":51,"x":269.86,"y":0.607},{"k":51,"x":272.53,"y":1},{"k":51,"x":275.2,"y":0.607},{"k":51,"x":277.88,"y":0.135},{"k":51,"x":280.55,"y":0.011},
{"k":52,"x":269.86,"y":0.011},{"k":52,"x":272.53,"y":0.135},{"k":52,"x":275.2,"y":0.607},{"k":52,"x":277.88,"y":1},{"k":52,"x":280.55,"y":0.607},{"k":52,"x":283.22,"y":0.135},{"k":52,"x":285.89,"y":0.011},
{"k":53,"x":275.2,"y":0.011},{"k":53,"x":277.88,"y":0.135},{"k":53,"x":280.55,"y":0.607},{"k":53,"x":283.22,"y":1},{"k":53,"x":285.89,"y":0.607},{"k":53,"x":288.56,"y":0.135},{"k":53,"x":291.23,"y":0.011},
{"k":54,"x":280.55,"y":0.011},{"k":54,"x":283.22,"y":0.135},{"k":54,"x":285.89,"y":0.607},{"k":54,"x":288.56,"y":1},{"k":54,"x":291.23,"y":0.607},{"k":54,"x":293.91,"y":0.135},{"k":54,"x":296.58,"y":0.011},
{"k":55,"x":285.89,"y":0.011},{"k":55,"x":288.56,"y":0.135},{"k":55,"x":291.23,"y":0.607},{"k":55,"x":293.91,"y":1},{"k":55,"x":296.58,"y":0.607},{"k":55,"x":299.25,"y":0.135},{"k":55,"x":301.92,"y":0.011},
{"k":56,"x":291.23,"y":0.011},{"k":56,"x":293.91,"y":0.135},{"k":56,"x":296.58,"y":0.607},{"k":56,"x":299.25,"y":1},{"k":56,"x":301.92,"y":0.607},{"k":56,"x":304.59,"y":0.135},{"k":56,"x":307.27,"y":0.011},
{"k":57,"x":296.58,"y":0.011},{"k":57,"x":299.25,"y":0.135},{"k":57,"x":301.92,"y":0.607},{"k":57,"x":304.59,"y":1},{"k":57,"x":307.27,"y":0.607},{"k":57,"x":309.94,"y":0.135},{"k":57,"x":312.61,"y":0.011},
{"k":58,"x":301.92,"y":0.011},{"k":58,"x":304.59,"y":0.135},{"k":58,"x":307.27,"y":0.607},{"k":58,"x":309.94,"y":1},{"k":58,"x":312.61,"y":0.607},{"k":58,"x":315.28,"y":0.135},{"k":58,"x":317.95,"y":0.011},
{"k":59,"x":307.27,"y":0.011},{"k":59,"x":309.94,"y":0.135},{"k":59,"x":312.61,"y":0.607},{"k":59,"x":315.28,"y":1},{"k":59,"x":317.95,"y":0.607},{"k":59,"x":320.63,"y":0.135},{"k":59,"x":323.3,"y":0.011},
{"k":60,"x":312.61,"y":0.011},{"k":60,"x":315.28,"y":0.135},{"k":60,"x":317.95,"y":0.607},{"k":60,"x":320.63,"y":1},{"k":60,"x":323.3,"y":0.607},{"k":60,"x":325.97,"y":0.135},{"k":60,"x":328.64,"y":0.011},
{"k":61,"x":317.95,"y":0.011},{"k":61,"x":320.63,"y":0.135},{"k":61,"x":323.3,"y":0.607},{"k":61,"x":325.97,"y":1},{"k":61,"x":328.64,"y":0.607},{"k":61,"x":331.31,"y":0.135},{"k":61,"x":333.98,"y":0.011},
{"k":62,"x":323.3,"y":0.011},{"k":62,"x":325.97,"y":0.135},{"k":62,"x":328.64,"y":0.607},{"k":62,"x":331.31,"y":1},{"k":62,"x":333.98,"y":0.607},{"k":62,"x":336.66,"y":0.135},{"k":62,"x":339.33,"y":0.011},
{"k":63,"x":328.64,"y":0.011},{"k":63,"x":331.31,"y":0.135},{"k":63,"x":333.98,"y":0.607},{"k":63,"x":336.66,"y":1},{"k":63,"x":339.33,"y":0.607},{"k":63,"x":342,"y":0.135},
{"k":64,"x":333.98,"y":0.011},{"k":64,"x":336.66,"y":0.135},{"k":64,"x":339.33,"y":0.607},{"k":64,"x":342,"y":1}
]
},
"vconcat": [
{
"width": 870, "height": 384,
"layer": [
{"data": {"name": "ecg"}, "mark": {"type": "line", "color": "black", "strokeWidth": 2.2, "strokeJoin": "miter"},
 "encoding": {"x": {"field": "s", "type": "quantitative", "scale": {"domain": [-174.59, 345.59], "nice": false, "zero": false}, "axis": null},
              "y": {"field": "v", "type": "quantitative", "scale": {"domain": [-0.49, 3.35], "nice": false, "zero": false}, "axis": null}}},
{"data": {"values": [{"from": 0, "to": 342}]}, "mark": {"type": "rule", "color": "black", "strokeWidth": 1.5},
 "encoding": {"x": {"field": "from", "type": "quantitative"}, "x2": {"field": "to"}, "y": {"datum": -0.11}}},
{"data": {"values": [{"from": 0, "to": 342}]}, "mark": {"type": "point", "shape": "triangle-left", "filled": true, "color": "black", "opacity": 1, "size": 260, "xOffset": 7},
 "encoding": {"x": {"field": "from", "type": "quantitative"}, "y": {"datum": -0.11}}},
{"data": {"values": [{"from": 0, "to": 342}]}, "mark": {"type": "point", "shape": "triangle-right", "filled": true, "color": "black", "opacity": 1, "size": 260, "xOffset": -7},
 "encoding": {"x": {"field": "to", "type": "quantitative"}, "y": {"datum": -0.11}}},
{"data": {"values": [{"t": "N"}]}, "mark": {"type": "text", "align": "left", "baseline": "alphabetic", "fontSize": 29, "fontStyle": "italic"},
 "encoding": {"text": {"field": "t"}, "x": {"datum": 146.5}, "y": {"datum": -0.36}}},
{"data": {"values": [{"t": "= 342"}]}, "mark": {"type": "text", "align": "left", "baseline": "alphabetic", "fontSize": 29},
 "encoding": {"text": {"field": "t"}, "x": {"datum": 163.8}, "y": {"datum": -0.36}}},
{"data": {"values": [{"t": "ECG signal:"}]}, "mark": {"type": "text", "align": "left", "baseline": "alphabetic", "fontSize": 21},
 "encoding": {"text": {"field": "t"}, "x": {"datum": -167.0}, "y": {"datum": 2.357}}},
{"data": {"values": [{"t": "f"}]}, "mark": {"type": "text", "align": "left", "baseline": "alphabetic", "fontSize": 21, "fontStyle": "italic"},
 "encoding": {"text": {"field": "t"}, "x": {"datum": -95.07}, "y": {"datum": 2.357}}}
]
},
{
"width": 870, "height": 95,
"layer": [
{"data": {"name": "m3"}, "mark": {"type": "line", "interpolate": "monotone", "clip": true, "color": "#7f7f7f", "strokeWidth": 2.4},
 "encoding": {"x": {"field": "x", "type": "quantitative", "scale": {"domain": [-174.59, 345.59], "nice": false, "zero": false}, "axis": null},
              "y": {"field": "y", "type": "quantitative", "scale": {"domain": [-0.17, 1.17], "nice": false, "zero": false}, "axis": null},
              "detail": {"field": "k", "type": "nominal"}}},
{"data": {"values": [{"from": 0, "to": 342}]}, "mark": {"type": "rule", "color": "black", "strokeWidth": 2.6, "clip": true},
 "encoding": {"x": {"field": "from", "type": "quantitative"}, "x2": {"field": "to"}, "y": {"datum": 0}}},
{"data": {"values": [{"t": "3 mesas"}]}, "mark": {"type": "text", "align": "right", "baseline": "alphabetic", "fontSize": 20},
 "encoding": {"text": {"field": "t"}, "x": {"datum": -119.58}, "y": {"datum": 0.606}}}
]
},
{
"width": 870, "height": 95,
"layer": [
{"data": {"name": "m5"}, "mark": {"type": "line", "interpolate": "monotone", "clip": true, "color": "#7f7f7f", "strokeWidth": 2.4},
 "encoding": {"x": {"field": "x", "type": "quantitative", "scale": {"domain": [-171.0, 342.0], "nice": false, "zero": false}, "axis": null},
              "y": {"field": "y", "type": "quantitative", "scale": {"domain": [-0.17, 1.17], "nice": false, "zero": false}, "axis": null},
              "detail": {"field": "k", "type": "nominal"}}},
{"data": {"values": [{"from": 0, "to": 342}]}, "mark": {"type": "rule", "color": "black", "strokeWidth": 2.6, "clip": true},
 "encoding": {"x": {"field": "from", "type": "quantitative"}, "x2": {"field": "to"}, "y": {"datum": 0}}},
{"data": {"values": [{"t": "5 mesas"}]}, "mark": {"type": "text", "align": "right", "baseline": "alphabetic", "fontSize": 20},
 "encoding": {"text": {"field": "t"}, "x": {"datum": -116.75}, "y": {"datum": 0.592}}}
]
},
{
"width": 870, "height": 95,
"layer": [
{"data": {"name": "m9"}, "mark": {"type": "line", "interpolate": "monotone", "clip": true, "color": "black", "strokeWidth": 2.2},
 "encoding": {"x": {"field": "x", "type": "quantitative", "scale": {"domain": [-172.19, 344.38], "nice": false, "zero": false}, "axis": null},
              "y": {"field": "y", "type": "quantitative", "scale": {"domain": [-0.17, 1.17], "nice": false, "zero": false}, "axis": null},
              "detail": {"field": "k", "type": "nominal"}}},
{"data": {"values": [{"from": 0, "to": 342}]}, "mark": {"type": "rule", "color": "black", "strokeWidth": 2.6, "clip": true},
 "encoding": {"x": {"field": "from", "type": "quantitative"}, "x2": {"field": "to"}, "y": {"datum": 0}}},
{"data": {"values": [{"t": "9 mesas"}]}, "mark": {"type": "text", "align": "right", "baseline": "alphabetic", "fontSize": 20},
 "encoding": {"text": {"field": "t"}, "x": {"datum": -117.56}, "y": {"datum": 0.578}}}
]
},
{
"width": 870, "height": 95,
"layer": [
{"data": {"name": "m17"}, "mark": {"type": "line", "interpolate": "monotone", "clip": true, "color": "black", "strokeWidth": 2.2},
 "encoding": {"x": {"field": "x", "type": "quantitative", "scale": {"domain": [-165.3, 330.6], "nice": false, "zero": false}, "axis": null},
              "y": {"field": "y", "type": "quantitative", "scale": {"domain": [-0.17, 1.17], "nice": false, "zero": false}, "axis": null},
              "detail": {"field": "k", "type": "nominal"}}},
{"data": {"values": [{"from": 0, "to": 342}]}, "mark": {"type": "rule", "color": "black", "strokeWidth": 2.6, "clip": true},
 "encoding": {"x": {"field": "from", "type": "quantitative"}, "x2": {"field": "to"}, "y": {"datum": 0}}},
{"data": {"values": [{"t": "17 mesas"}]}, "mark": {"type": "text", "align": "right", "baseline": "alphabetic", "fontSize": 20},
 "encoding": {"text": {"field": "t"}, "x": {"datum": -112.86}, "y": {"datum": 0.494}}}
]
},
{
"width": 870, "height": 95,
"layer": [
{"data": {"name": "m33"}, "mark": {"type": "line", "interpolate": "monotone", "clip": true, "color": "black", "strokeWidth": 2.2},
 "encoding": {"x": {"field": "x", "type": "quantitative", "scale": {"domain": [-172.0, 335.25], "nice": false, "zero": false}, "axis": null},
              "y": {"field": "y", "type": "quantitative", "scale": {"domain": [-0.17, 1.17], "nice": false, "zero": false}, "axis": null},
              "detail": {"field": "k", "type": "nominal"}}},
{"data": {"name": "m33"}, "transform": [{"filter": "datum.k == 12"}], "mark": {"type": "line", "interpolate": "monotone", "clip": true, "color": "black", "strokeWidth": 3.8},
 "encoding": {"x": {"field": "x", "type": "quantitative"}, "y": {"field": "y", "type": "quantitative"}}},
{"data": {"values": [{"from": -7, "to": 342}]}, "mark": {"type": "rule", "color": "black", "strokeWidth": 3, "clip": true},
 "encoding": {"x": {"field": "from", "type": "quantitative"}, "x2": {"field": "to"}, "y": {"datum": 0}}},
{"data": {"values": [{"t": "33 mesas"}]}, "mark": {"type": "text", "align": "right", "baseline": "alphabetic", "fontSize": 20},
 "encoding": {"text": {"field": "t"}, "x": {"datum": -118.36}, "y": {"datum": 0.508}}},
{"data": {"values": [{"t": "arrow"}]}, "mark": {"type": "rule", "color": "black", "strokeWidth": 2},
 "encoding": {"x": {"datum": 67.05}, "y": {"datum": -1.777}, "x2": {"datum": 127.75}, "y2": {"datum": 0.178}}},
{"data": {"values": [{"t": "head"}]}, "mark": {"type": "point", "shape": "triangle-up", "angle": 37, "filled": true, "color": "black", "opacity": 1, "size": 170},
 "encoding": {"x": {"datum": 129.6}, "y": {"datum": 0.237}}},
{"data": {"values": [{"t": "Mesa selected at iteration"}]}, "mark": {"type": "text", "align": "left", "baseline": "alphabetic", "fontSize": 20},
 "encoding": {"text": {"field": "t"}, "x": {"datum": -7.0}, "y": {"datum": -2.059}}},
{"data": {"values": [{"t": "n"}]}, "mark": {"type": "text", "align": "left", "baseline": "alphabetic", "fontSize": 20, "fontStyle": "italic"},
 "encoding": {"text": {"field": "t"}, "x": {"datum": 129.15}, "y": {"datum": -2.059}}},
{"data": {"values": [{"t": "=1"}]}, "mark": {"type": "text", "align": "left", "baseline": "alphabetic", "fontSize": 20},
 "encoding": {"text": {"field": "t"}, "x": {"datum": 139.35}, "y": {"datum": -2.059}}}
]
},
{
"width": 870, "height": 95,
"layer": [
{"data": {"name": "m65"}, "mark": {"type": "line", "interpolate": "monotone", "clip": true, "color": "black", "strokeWidth": 2},
 "encoding": {"x": {"field": "x", "type": "quantitative", "scale": {"domain": [-170.25, 337.01], "nice": false, "zero": false}, "axis": null},
              "y": {"field": "y", "type": "quantitative", "scale": {"domain": [-0.17, 1.17], "nice": false, "zero": false}, "axis": null},
              "detail": {"field": "k", "type": "nominal"}}},
{"data": {"values": [{"from": 0, "to": 342}]}, "mark": {"type": "rule", "color": "black", "strokeWidth": 2.6, "clip": true},
 "encoding": {"x": {"field": "from", "type": "quantitative"}, "x2": {"field": "to"}, "y": {"datum": 0}}},
{"data": {"values": [{"t": "65 mesas"}]}, "mark": {"type": "text", "align": "right", "baseline": "alphabetic", "fontSize": 20},
 "encoding": {"text": {"field": "t"}, "x": {"datum": -116.61}, "y": {"datum": 0.48}}}
]
}
]
}
